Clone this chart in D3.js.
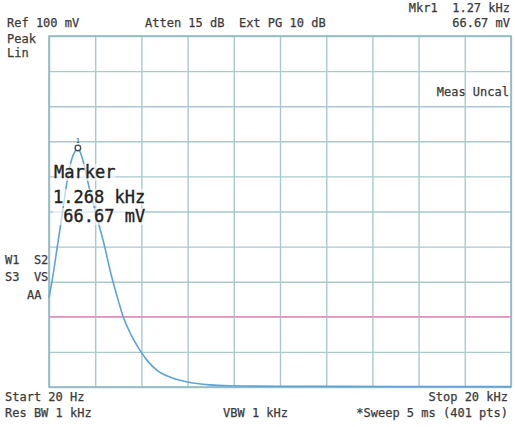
<!DOCTYPE html>
<html><head><meta charset="utf-8">
<script src="https://cdn.jsdelivr.net/npm/d3@7"></script>
<style>body{margin:0;background:#fff}svg{display:block}</style>
</head><body>
<script>
// Trace readings (frequency in kHz, amplitude in mV)
const freqKHz = [0.02,0.16,0.38,0.60,0.81,1.00,1.15,1.268,1.40,1.55,1.68,2.04,2.39,2.73,3.05,3.23,3.60,3.95,4.30,4.68,5.30,5.97,6.98,7.85,10.0,15.0,20.0];
const ampMV   = [25.4,30.5,40.0,49.6,59.0,64.8,67.2,68.0,66.4,63.0,59.0,49.6,41.0,31.4,23.9,20.0,14.5,10.5,7.3,4.8,2.7,1.5,0.6,0.35,0.2,0.15,0.1];
const xDomain = [0.02, 20];     // Start 20 Hz .. Stop 20 kHz
const yDomain = [0, 100];       // Ref 100 mV, linear
const divisions = 10;
const displayLineMV = 20;
const markerFreq = 1.268, markerAmp = 66.67;
const headerTexts = ["Ref 100 mV","Atten 15 dB  Ext PG 10 dB","Mkr1  1.27 kHz","66.67 mV"];
const footerTexts = ["Start 20 Hz","Stop 20 kHz","Res BW 1 kHz","VBW 1 kHz","*Sweep 5 ms (401 pts)"];

const W=515,H=427;
const svg=d3.select("body").append("svg").attr("width",W).attr("height",H);
const x=d3.scaleLinear().domain(xDomain).range([49,511]);
const y=d3.scaleLinear().domain(yDomain).range([387,36]);
const font="'DejaVu Sans Mono', monospace";
const txtCol="#3a3a3a";

// grid
const xt=d3.range(divisions+1).map(i=>xDomain[0]+i*(xDomain[1]-xDomain[0])/divisions);
const yt=d3.range(divisions+1).map(i=>yDomain[0]+i*(yDomain[1]-yDomain[0])/divisions);
const g=svg.append("g");
g.append("g").attr("transform","translate(0,387)")
 .call(d3.axisBottom(x).tickValues(xt).tickSize(-351).tickFormat(""))
 .call(a=>a.select(".domain").remove())
 .call(a=>a.selectAll("line").attr("stroke","#a9c9cc").attr("stroke-width",1.4));
g.append("g").attr("transform","translate(49,0)")
 .call(d3.axisLeft(y).tickValues(yt).tickSize(-462).tickFormat(""))
 .call(a=>a.select(".domain").remove())
 .call(a=>a.selectAll("line").attr("stroke","#a9c9cc").attr("stroke-width",1.4));
g.append("rect").attr("x",49).attr("y",36).attr("width",462).attr("height",351)
 .attr("fill","none").attr("stroke","#8fb9c4").attr("stroke-width",1.6);

// display line
svg.append("line").attr("x1",49).attr("x2",511).attr("y1",y(displayLineMV)).attr("y2",y(displayLineMV))
 .attr("stroke","#d99cc0").attr("stroke-width",1.6);

// trace
const data=freqKHz.map((f,i)=>({f,a:ampMV[i]}));
svg.append("path").datum(data)
 .attr("d",d3.line().x(d=>x(d.f)).y(d=>y(d.a)).curve(d3.curveMonotoneX))
 .attr("fill","none").attr("stroke","#5ea3d6").attr("stroke-width",1.6);

// marker
const mx=x(markerFreq), my=y(markerAmp)-5;
svg.append("circle").attr("cx",mx).attr("cy",my).attr("r",2.8).attr("fill","#fff").attr("stroke","#444").attr("stroke-width",1.3);
svg.append("text").attr("x",mx).attr("y",my-5).attr("text-anchor","middle").attr("font-family",font).attr("font-size",7).attr("fill",txtCol).text("1");

// marker readout
const mk=[{t:"Marker",x:54,y:178},{t:"1.268 kHz",x:53,y:203},{t:" 66.67 mV",x:53,y:222}];
mk.forEach(d=>{
  const t=svg.append("text").attr("x",d.x).attr("y",d.y).attr("font-family",font).attr("font-size",17)
   .attr("fill","#222").attr("stroke","#222").attr("stroke-width",0.35)
   .style("white-space","pre").text(d.t);
  const b=t.node().getBBox();
  svg.insert("rect",()=>t.node()).attr("x",b.x).attr("y",b.y+2).attr("width",b.width).attr("height",b.height-3)
   .attr("fill","#fff").attr("opacity",0.6);
});

function txt(s,xx,yy,anchor,size){
  return svg.append("text").attr("x",xx).attr("y",yy).attr("text-anchor",anchor||"start")
   .attr("font-family",font).attr("font-size",size||12).attr("fill",txtCol)
   .attr("stroke",txtCol).attr("stroke-width",0.25)
   .style("white-space","pre").text(s);
}
txt(headerTexts[0],7,27);
txt(headerTexts[1],145,27);
txt(headerTexts[2],510,12,"end");
txt(headerTexts[3],510,27,"end");
txt("Peak",7,43);
txt("Lin",7,57);
txt("Meas Uncal",509,96,"end");
txt("W1  S2",5,264);
txt("S3  VS",5,281);
txt("AA",27,299);
txt(footerTexts[0],5,401);
txt(footerTexts[1],508,401,"end");
txt(footerTexts[2],5,417);
txt(footerTexts[3],223,417);
txt(footerTexts[4],508,417,"end");
</script>
</body></html>
